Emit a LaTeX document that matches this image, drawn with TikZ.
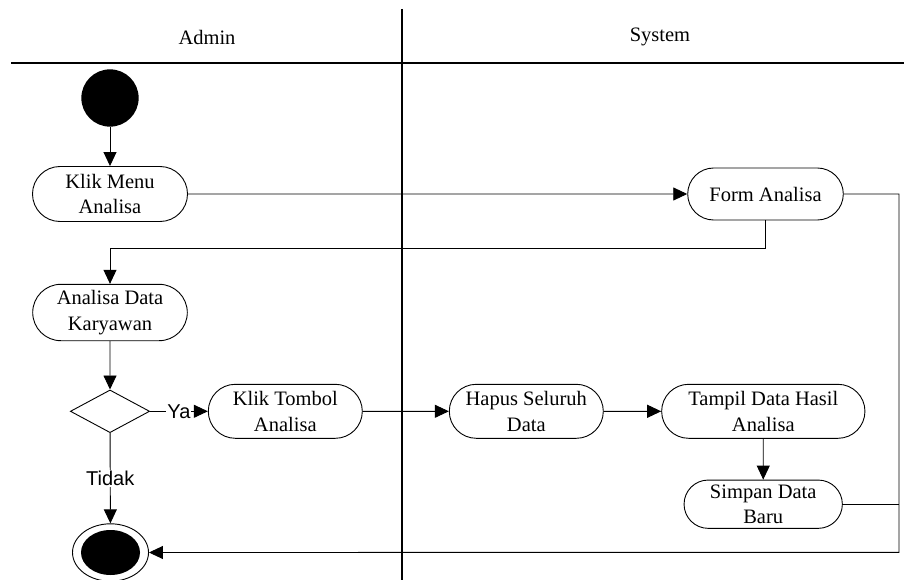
\documentclass[tikz,border=0pt]{standalone}
\usepackage{fontspec}
\setmainfont{Liberation Serif}
\newfontfamily\labelfont{Liberation Sans}
\usetikzlibrary{shapes.misc,shapes.geometric,arrows.meta}
\begin{document}
\begin{tikzpicture}[x=1pt,y=-1pt,
 act/.style={draw, rounded rectangle, inner sep=0pt, align=center, font=\fontsize{20.5}{25.7}\selectfont, line width=0.9pt},
 flow/.style={line width=0.9pt, -{Triangle[length=14pt,width=13pt]}},
 plain/.style={line width=0.9pt},
 lane/.style={line width=2pt},
 head/.style={font=\fontsize{20.5}{25.7}\selectfont},
 lbl/.style={font=\labelfont\fontsize{20}{24}\selectfont, fill=white, inner sep=1pt}]
\useasboundingbox (0,0) rectangle (904,580);
\draw[lane] (11,63) -- (904,63);
\draw[lane] (402,9) -- (402,580);
\node[head] (hA) at (207,37) {Admin};
\node[head] (hS) at (660,37) {System};

\node[circle, fill, minimum size=57.3pt, inner sep=0pt] (start) at (110,98) {};
\node[act, minimum width=155pt, minimum height=55pt] (km) at (110,194) {Klik Menu\\Analisa};
\node[act, minimum width=155.6pt, minimum height=52pt] (fa) at (765.5,194) {Form Analisa};
\node[act, minimum width=154.6pt, minimum height=56.4pt] (ad) at (110,312.5) {Analisa Data\\Karyawan};
\node[diamond, draw, line width=0.9pt, minimum width=79.3pt, minimum height=42.7pt, inner sep=0pt] (dec) at (110,411.3) {};
\node[act, minimum width=154pt, minimum height=54pt] (kt) at (285.3,411.3) {Klik Tombol\\Analisa};
\node[act, minimum width=154pt, minimum height=54pt] (hp) at (526.3,411.3) {Hapus Seluruh\\Data};
\node[act, minimum width=203.3pt, minimum height=54pt] (tp) at (763.3,411.3) {Tampil Data Hasil\\Analisa};
\node[act, minimum width=158.3pt, minimum height=48.3pt] (sp) at (763.2,504.2) {Simpan Data\\Baru};
\node[ellipse, draw, line width=0.9pt, minimum width=76pt, minimum height=57.4pt, inner sep=0pt] (end) at (110.5,552.5) {};
\node[ellipse, fill, minimum width=59pt, minimum height=45pt, inner sep=0pt] (endin) at (end.center) {};

\coordinate (b1) at (110,248.3);
\coordinate (r1) at (899,552.3);
\draw[flow] (start) -- (km);
\draw[flow] (km) -- (fa);
\draw[flow] (fa.south) |- (b1) -- (ad.north);
\draw[flow] (ad) -- (dec);
\draw[flow] (dec) -- node[lbl] {Ya} (kt);
\draw[flow] (dec) -- node[lbl] {Tidak} (end);
\draw[flow] (kt) -- (hp);
\draw[flow] (hp) -- (tp);
\draw[flow] (tp) -- (sp);
\draw[flow] (fa.east) -| (r1) -- (end.east);
\draw[plain] (sp.east) -- (sp.east -| r1);
\end{tikzpicture}
\end{document}
